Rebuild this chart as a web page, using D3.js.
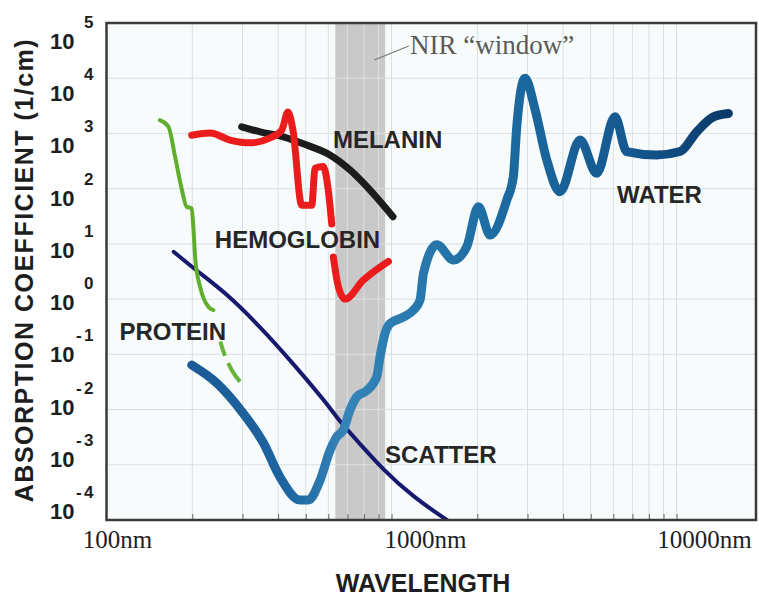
<!DOCTYPE html>
<html>
<head>
<meta charset="utf-8">
<script src="https://cdn.jsdelivr.net/npm/d3@7"></script>
<style>
  html, body { margin: 0; padding: 0; background: #ffffff; }
  svg { display: block; }
</style>
</head>
<body>
<svg id="chart" width="759" height="597"></svg>
<script>
// Absorption spectra of tissue components, [wavelength nm, coefficient 1/cm]
const waterSpectrum = [
  [199, 0.064], [244, 0.030], [302, 0.0085], [355, 0.0025], [406, 0.0006],
  [477, 0.00023], [511, 0.00023], [561, 0.00052], [608, 0.0018], [642, 0.0032],
  [678, 0.0043], [715, 0.0098], [755, 0.017], [818, 0.022], [887, 0.039],
  [911, 0.089], [949, 0.24], [988, 0.36], [1100, 0.47], [1193, 0.63],
  [1259, 0.96], [1294, 2.9], [1442, 9.6], [1649, 5.1], [1836, 8.9],
  [2017, 47], [2218, 14.5], [2536, 62], [2675, 165], [2750, 1320],
  [2940, 10000], [3192, 2650], [3505, 330], [3901, 88], [4585, 760],
  [5245, 190], [6081, 2000], [6683, 470], [8525, 407], [10290, 470],
  [11770, 1070], [13470, 2000], [15200, 2300]
];
// null marks the break where the curve passes under its label
const hemoglobinSpectrum = [
  [199, 930], [231, 1020], [271, 760], [319, 675], [375, 830], [412, 1150],
  [433, 2450], [451, 1150], [484, 50], [525, 50], [539, 234], [576, 251],
  [600, 93], [617, 23], null, [625, 5.8], [651, 1.67], [687, 1.0],
  [796, 2.2], [975, 4.8]
];
const melaninSpectrum = [
  [298, 1320], [346, 1070], [417, 870], [504, 616], [608, 407],
  [715, 218], [841, 94], [1012, 31]
];
const proteinSpectrum = [
  [154, 1740], [165, 1320], [174, 380], [184, 94], [191, 47], [199, 44],
  [202, 18], [205, 5.1], [213, 1.67], [228, 0.72], [237, 0.63]
];
const proteinTail = [
  [237, 0.63], [254, 0.137], [275, 0.052], [294, 0.032]
];
const scatterSpectrum = [
  [172, 7.2], [202, 3.6], [264, 1.27], [346, 0.315], [452, 0.068],
  [593, 0.0129], [659, 0.006], [755, 0.0028], [936, 0.0008],
  [1193, 0.00026], [1563, 0.0001]
];
const nirWindow = [635, 950];
const decadeExponents = [5, 4, 3, 2, 1, 0, -1, -2, -3, -4];
const xTickValues = [100, 1000, 10000];
// label anchors: text start, baseline
const seriesLabels = [
  { text: "MELANIN", at: [623, 545] },
  { text: "HEMOGLOBIN", at: [240, 8.4] },
  { text: "PROTEIN", at: [111, 0.18] },
  { text: "SCATTER", at: [949, 0.00107] },
  { text: "WATER", at: [6185, 55] }
];

const svg = d3.select("#chart");
const plotLeft = 106.5, plotRight = 756, plotTop = 23, plotBottom = 520;

const x = d3.scaleLog().domain([100, 19000]).range([plotLeft, plotRight]);
const y = d3.scaleLog().domain([1e-4, 1e5]).range([plotBottom, plotTop]);
// tick labels of the value axis sit on their own evenly spaced rows
const yLabelRow = d3.scaleLinear().domain([5, -4]).range([41, 511]);

const defs = svg.append("defs");
defs.append("clipPath").attr("id", "plotClip")
  .append("rect").attr("x", plotLeft).attr("y", plotTop)
  .attr("width", plotRight - plotLeft).attr("height", plotBottom - plotTop);

const waterGrad = defs.append("linearGradient").attr("id", "waterGrad")
  .attr("gradientUnits", "userSpaceOnUse")
  .attr("x1", x(190)).attr("x2", x(15500)).attr("y1", 0).attr("y2", 0);
[[190, "#1b5a96"], [420, "#1d64a0"], [700, "#3585b8"], [1000, "#2e7db2"],
 [2500, "#1b6aa0"], [7000, "#15588f"], [15500, "#0b3868"]].forEach(([w, c]) => {
  waterGrad.append("stop")
    .attr("offset", (x(w) - x(190)) / (x(15500) - x(190)))
    .attr("stop-color", c);
});

// plot background
svg.append("rect").attr("x", plotLeft).attr("y", plotTop)
  .attr("width", plotRight - plotLeft).attr("height", plotBottom - plotTop)
  .attr("fill", "#f8fbfb");

// NIR window band
svg.append("rect")
  .attr("x", x(nirWindow[0])).attr("y", plotTop)
  .attr("width", x(nirWindow[1]) - x(nirWindow[0]))
  .attr("height", plotBottom - plotTop)
  .attr("fill", "#c9c9c9");

// grid
const minorTicks = x.ticks().filter(d => d > 100 && d <= 10000);
svg.append("g").selectAll("line").data(minorTicks).join("line")
  .attr("x1", d => x(d)).attr("x2", d => x(d))
  .attr("y1", plotTop).attr("y2", plotBottom)
  .attr("stroke", "#dae0e0").attr("stroke-width", 1);
const decadeTicks = decadeExponents.filter(e => e < 5 && e > -4).map(e => Math.pow(10, e));
svg.append("g").selectAll("line").data(decadeTicks).join("line")
  .attr("x1", plotLeft).attr("x2", plotRight)
  .attr("y1", d => y(d)).attr("y2", d => y(d))
  .attr("stroke", "#dae0e0").attr("stroke-width", 1);

// short ticks inside the bottom edge
const xAxis = svg.append("g").attr("transform", `translate(0,${plotBottom})`)
  .call(d3.axisTop(x).tickValues(minorTicks).tickSize(6).tickFormat(""));
xAxis.select(".domain").remove();
xAxis.selectAll(".tick line").attr("stroke", "#666");

// curves
const line = d3.line()
  .defined(d => d !== null)
  .x(d => x(d[0])).y(d => y(d[1]))
  .curve(d3.curveMonotoneX);
const smoothLine = d3.line()
  .x(d => x(d[0])).y(d => y(d[1]))
  .curve(d3.curveBasis);

const curves = svg.append("g").attr("clip-path", "url(#plotClip)")
  .attr("fill", "none").attr("stroke-linecap", "round").attr("stroke-linejoin", "round");

curves.append("path").datum(scatterSpectrum).attr("d", smoothLine)
  .attr("stroke", "#17196e").attr("stroke-width", 4);
curves.append("path").datum(proteinSpectrum).attr("d", line)
  .attr("stroke", "#5fae2e").attr("stroke-width", 4);
// the tail is dashed; its first gap leaves room for the label
curves.append("path").datum(proteinTail).attr("d", line)
  .attr("stroke", "#66b535").attr("stroke-width", 4)
  .attr("stroke-linecap", "butt")
  .attr("stroke-dasharray", "0,32,15,8,40");
curves.append("path").datum(waterSpectrum).attr("d", line)
  .attr("stroke", "url(#waterGrad)").attr("stroke-width", 9);
curves.append("path").datum(melaninSpectrum).attr("d", line)
  .attr("stroke", "#1c1c1c").attr("stroke-width", 7);
curves.append("path").datum(hemoglobinSpectrum).attr("d", line)
  .attr("stroke", "#ea1c1c").attr("stroke-width", 7);

// plot frame
svg.append("rect").attr("x", plotLeft).attr("y", plotTop)
  .attr("width", plotRight - plotLeft).attr("height", plotBottom - plotTop)
  .attr("fill", "none").attr("stroke", "#3a3a3a").attr("stroke-width", 2.5);

// series labels
svg.append("g").selectAll("text").data(seriesLabels).join("text")
  .attr("x", d => x(d.at[0])).attr("y", d => y(d.at[1]))
  .attr("font-family", "Liberation Sans, Arial, sans-serif")
  .attr("font-weight", "bold").attr("font-size", 24)
  .attr("fill", "#262626")
  .text(d => d.text);

// NIR window caption with leader line
svg.append("line")
  .attr("x1", x(870)).attr("y1", 60).attr("x2", x(1150)).attr("y2", 46)
  .attr("stroke", "#7a7a7a").attr("stroke-width", 1.2);
svg.append("text")
  .attr("x", x(1161)).attr("y", 54)
  .attr("font-family", "Liberation Serif, Times New Roman, serif")
  .attr("font-size", 27).attr("fill", "#5a5a5a")
  .text("NIR \u201Cwindow\u201D");

// value axis labels: 10 with superscript exponent
const yLabels = svg.append("g")
  .attr("font-family", "Liberation Sans, Arial, sans-serif")
  .attr("font-weight", "bold").attr("fill", "#1e1e1e");
const rows = yLabels.selectAll("g").data(decadeExponents).join("g")
  .attr("transform", d => `translate(0,${yLabelRow(d)})`);
rows.append("text").attr("x", 50).attr("y", 8)
  .attr("font-size", 22).text("10");
rows.append("text").attr("x", 84).attr("y", -13)
  .attr("font-size", 17).text(d => Math.abs(d));
rows.filter(d => d < 0).append("text").attr("x", 76).attr("y", -13)
  .attr("font-size", 17).text("-");

// wavelength axis labels
const xLabelShift = [11, 34, 28];
svg.append("g").selectAll("text").data(xTickValues).join("text")
  .attr("x", (d, i) => x(d) + xLabelShift[i]).attr("y", 548)
  .attr("text-anchor", "middle")
  .attr("font-family", "Liberation Serif, Times New Roman, serif")
  .attr("font-size", 25).attr("fill", "#1e1e1e")
  .text(d => d + "nm");

// axis titles
svg.append("text")
  .attr("x", 423).attr("y", 592).attr("text-anchor", "middle")
  .attr("font-family", "Liberation Sans, Arial, sans-serif")
  .attr("font-weight", "bold").attr("font-size", 25).attr("fill", "#1e1e1e")
  .text("WAVELENGTH");
svg.append("text")
  .attr("transform", "translate(33,270) rotate(-90)")
  .attr("text-anchor", "middle")
  .attr("font-family", "Liberation Sans, Arial, sans-serif")
  .attr("font-weight", "bold").attr("font-size", 25).attr("letter-spacing", 1.5)
  .attr("fill", "#1e1e1e")
  .text("ABSORPTION COEFFICIENT (1/cm)");
</script>
</body>
</html>
